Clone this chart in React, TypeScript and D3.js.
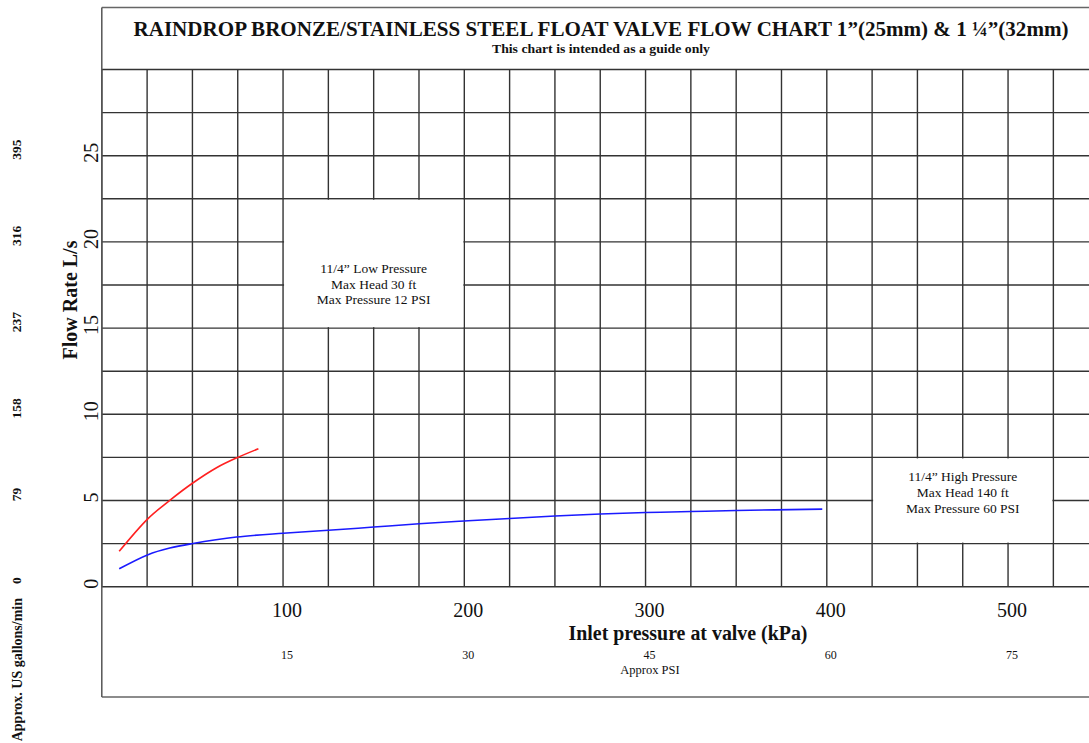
import React from 'react';
import * as d3 from 'd3';

// flow curves: inlet pressure (kPa) vs flow (L/s)
const lowPressureKpa = [9.6, 25.5, 38, 50, 63.3, 75, 86.4];
const lowPressureFlow = [2.05, 3.95, 5.05, 6.0, 6.9, 7.5, 8.0];

const highPressureKpa = [9.6, 25.5, 37.5, 49.5, 74.3, 100, 125, 150, 175, 200, 225, 250, 275, 300, 325, 350, 397.5];
const highPressureFlow = [1.04, 1.86, 2.24, 2.49, 2.88, 3.1, 3.27, 3.46, 3.65, 3.81, 3.96, 4.1, 4.22, 4.3, 4.36, 4.42, 4.5];

const kpaTicks = [100, 200, 300, 400, 500];
const psiTicks = ['15', '30', '45', '60', '75'];
const flowTicks = [0, 5, 10, 15, 20, 25];
const gallonTicks = ['0', '79', '158', '237', '316', '395'];

const lowNote = ['11/4” Low Pressure', 'Max Head 30 ft', 'Max Pressure 12 PSI'];
const highNote = ['11/4” High Pressure', 'Max Head 140 ft', 'Max Pressure 60 PSI'];

const W = 1089;
const H = 743;
const FONT = '"Liberation Serif", "Times New Roman", serif';

export default function App() {
  // 25 kPa per cell, 2.5 L/s per cell
  const x = d3.scaleLinear().domain([0, 600]).range([101.8, 101.8 + 600 * 1.8125]);
  const y = d3.scaleLinear().domain([0, 30]).range([586.7, 69.5]);

  const frameTop = 7.5;
  const frameBottom = 697;
  const left = x(0);

  const vLines = d3.range(0, 601, 25);
  const hLines = d3.range(0, 30.1, 2.5);

  const line = d3.line<[number, number]>()
    .x(d => x(d[0]))
    .y(d => y(d[1]))
    .curve(d3.curveCatmullRom.alpha(0.5));

  const lowPts = lowPressureKpa.map((k, i) => [k, lowPressureFlow[i]] as [number, number]);
  const highPts = highPressureKpa.map((k, i) => [k, highPressureFlow[i]] as [number, number]);

  const gridColor = '#333';

  return (
    <svg width={W} height={H} style={{ position: 'absolute', left: 0, top: 0, background: '#fff' }}
      fontFamily={FONT}>
      <rect x={0} y={0} width={W} height={H} fill="#fff" />

      {/* grid */}
      {vLines.map(v => (
        <line key={'v' + v} x1={x(v)} x2={x(v)} y1={y(30)} y2={y(0)} stroke={gridColor} strokeWidth={1.4} />
      ))}
      {hLines.map(h => (
        <line key={'h' + h} x1={left} x2={W + 10} y1={y(h)} y2={y(h)} stroke={gridColor} strokeWidth={1.4} />
      ))}

      {/* outer frame */}
      <line x1={left} x2={W + 10} y1={frameTop} y2={frameTop} stroke="#666" strokeWidth={1.5} />
      <line x1={left} x2={W + 10} y1={frameBottom} y2={frameBottom} stroke="#666" strokeWidth={1.5} />
      <line x1={left} x2={left} y1={frameTop} y2={frameBottom} stroke="#555" strokeWidth={1.5} />

      {/* note boxes */}
      <rect x={x(100) + 1} y={y(22.5) + 1} width={x(200) - x(100) - 2} height={y(15) - y(22.5) - 2} fill="#fff" />
      <rect x={x(425) + 1} y={y(7.5) + 1} width={x(525) - x(425) - 2} height={y(2.5) - y(7.5) - 2} fill="#fff" />
      {lowNote.map((t, i) => (
        <text key={t} x={(x(100) + x(200)) / 2} y={273 + i * 15.5} textAnchor="middle" fontSize={13.5} fill="#111">{t}</text>
      ))}
      {highNote.map((t, i) => (
        <text key={t} x={(x(425) + x(525)) / 2} y={481 + i * 16} textAnchor="middle" fontSize={13.5} fill="#111">{t}</text>
      ))}

      {/* curves */}
      <path d={line(lowPts) || ''} fill="none" stroke="#ff2020" strokeWidth={1.6} />
      <path d={line(highPts) || ''} fill="none" stroke="#1a1aff" strokeWidth={1.6} />

      {/* title */}
      <text x={601} y={36} textAnchor="middle" fontSize={20} fontWeight="bold" fill="#111"
        textLength={935} lengthAdjust="spacingAndGlyphs">
        RAINDROP BRONZE/STAINLESS STEEL FLOAT VALVE FLOW  CHART 1”(25mm) &amp; 1 ¼”(32mm)
      </text>
      <text x={601} y={53} textAnchor="middle" fontSize={11.5} fontWeight="bold" fill="#111"
        textLength={218} lengthAdjust="spacingAndGlyphs">
        This chart is intended as a guide only
      </text>

      {/* x axis labels */}
      {kpaTicks.map(k => (
        <text key={'k' + k} x={x(k) + 4} y={617} textAnchor="middle" fontSize={20} fill="#111">{k}</text>
      ))}
      <text x={688} y={640} textAnchor="middle" fontSize={20} fontWeight="bold" fill="#111"
        textLength={239} lengthAdjust="spacingAndGlyphs">
        Inlet pressure at valve (kPa)
      </text>
      {psiTicks.map((p, i) => (
        <text key={'p' + p} x={x(kpaTicks[i]) + 4} y={659} textAnchor="middle" fontSize={12} fill="#111">{p}</text>
      ))}
      <text x={650} y={674} textAnchor="middle" fontSize={12.5} fill="#111">Approx PSI</text>

      {/* y axis labels */}
      {flowTicks.map(f => (
        <text key={'f' + f} transform={`translate(97.5,${y(f) - 3}) rotate(-90)`} textAnchor="middle"
          fontSize={20} fill="#111">{f}</text>
      ))}
      <text transform="translate(77,300) rotate(-90)" textAnchor="middle" fontSize={20} fontWeight="bold" fill="#111">
        Flow Rate L/s
      </text>
      {gallonTicks.map((g, i) => (
        <text key={'g' + g} transform={`translate(21,${y(flowTicks[i]) - 6}) rotate(-90)`} textAnchor="middle"
          fontSize={13.5} fontWeight="bold" fill="#111">{g}</text>
      ))}
      <text transform="translate(22,598) rotate(-90)" textAnchor="end" fontSize={14} fontWeight="bold" fill="#111">
        Approx. US gallons/min
      </text>
    </svg>
  );
}
